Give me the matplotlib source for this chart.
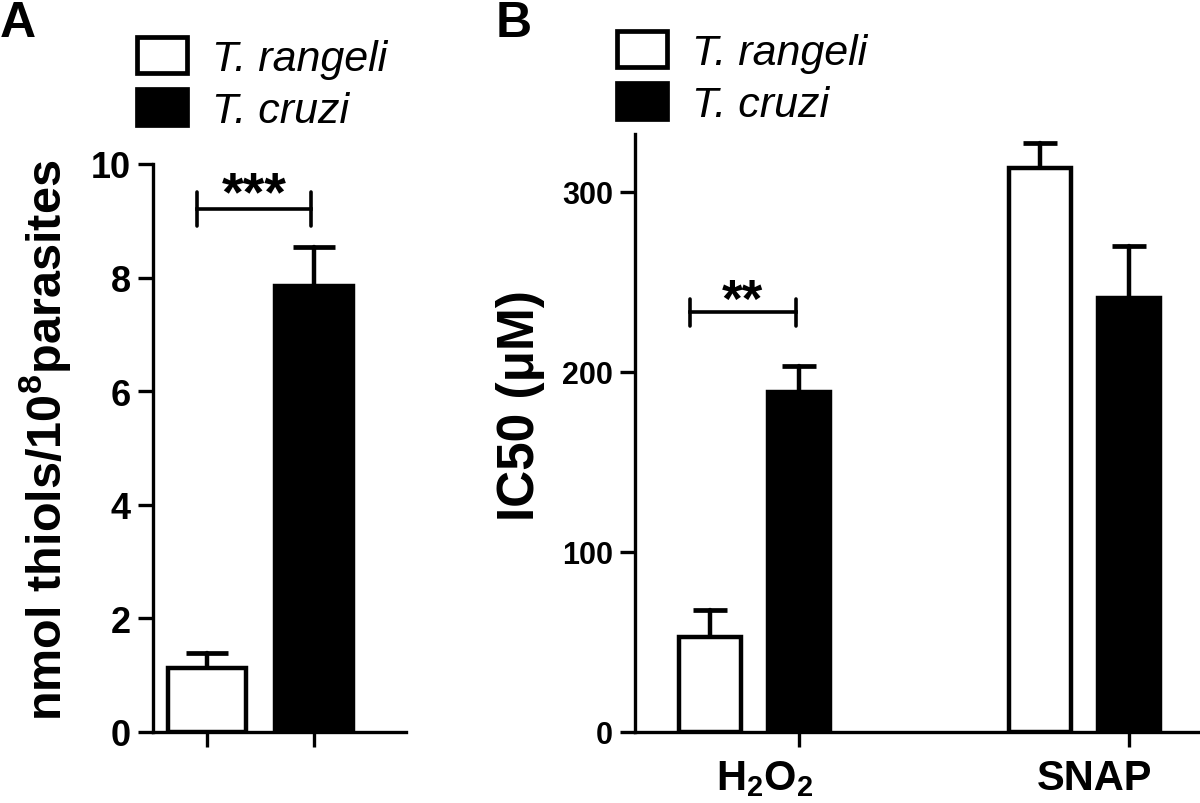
import matplotlib
matplotlib.use('Agg')
import matplotlib.pyplot as plt
from matplotlib.patches import Patch
import numpy as np

plt.rcParams['font.family'] = ['Liberation Sans', 'DejaVu Sans']
plt.rcParams['mathtext.default'] = 'regular'

# ---------------- data ----------------
series = ['T. rangeli', 'T. cruzi']
series_colors = ['white', 'black']

# Panel A: thiol content
a_values = [1.12, 7.85]
a_errors = [0.27, 0.69]
a_yticks = [0, 2, 4, 6, 8, 10]

# Panel B: IC50
b_categories = ['H$_2$O$_2$', 'SNAP']
b_rangeli = [53, 313]
b_rangeli_err = [15, 14]
b_cruzi = [189, 241]
b_cruzi_err = [14, 29]
b_yticks = [0, 100, 200, 300]

W, H = 1200, 804
fig = plt.figure(figsize=(W / 100, H / 100), dpi=100)


def px_axes(l, r, t, b):
    return fig.add_axes([l / W, 1 - b / H, (r - l) / W, (b - t) / H])


def style_axes(ax, ylabelsize):
    for s in ['top', 'right']:
        ax.spines[s].set_visible(False)
    for s in ['left', 'bottom']:
        ax.spines[s].set_linewidth(2.4)
    ax.tick_params(axis='both', which='major', direction='out', length=11, width=2.4)
    ax.tick_params(axis='y', labelsize=ylabelsize, pad=5)
    for lab in ax.get_yticklabels():
        lab.set_fontweight('bold')


def round_caps(eb):
    for ln in eb.lines[1]:
        ln.set_solid_capstyle('round')
    for lc in eb.lines[2]:
        lc.set_capstyle('round')


lw_edge = 3.2

# ---------------- Panel A ----------------
axA = px_axes(153, 406, 165, 733)
xa = np.arange(len(a_values))
axA.bar(xa, a_values, width=0.73, color=series_colors, edgecolor='black',
        linewidth=lw_edge, zorder=3)
eb = axA.errorbar(xa, a_values, yerr=[np.zeros(len(a_values)), a_errors], fmt='none',
                  ecolor='black', elinewidth=3.2, capsize=15, capthick=3.4, zorder=2)
round_caps(eb)
axA.set_xlim(-0.505, 1.86)
axA.set_ylim(0, 10)
axA.set_yticks(a_yticks)
axA.set_xticks(xa)
axA.set_xticklabels(['', ''])
style_axes(axA, 26)
axA.set_ylabel('nmol thiols/10$^8$parasites', fontsize=35, fontweight='bold')
axA.yaxis.set_label_coords(-0.315, 0.515)

# significance bracket A
bxa = [xa[0] - 0.09, xa[1] - 0.03]
ya = 9.2
axA.plot([bxa[0], bxa[1]], [ya, ya], color='black', lw=2.6, clip_on=False)
for xx in bxa:
    axA.plot([xx, xx], [ya - 0.3, ya + 0.3], color='black', lw=2.6,
             clip_on=False, solid_capstyle='round')
axA.text(np.mean(bxa), ya - 0.2, '***', ha='center', va='bottom', fontsize=40,
         fontweight='bold')

# ---------------- Panel B ----------------
axB = px_axes(635, 1200, 135, 733)
xb = np.arange(len(b_categories))
off = 0.27
wb = 0.188
axB.bar(xb - off, b_rangeli, width=wb, color='white', edgecolor='black',
        linewidth=lw_edge, zorder=3)
axB.bar(xb, b_cruzi, width=wb, color='black', edgecolor='black',
        linewidth=lw_edge, zorder=3)
for xs, ys, es in [(xb - off, b_rangeli, b_rangeli_err), (xb, b_cruzi, b_cruzi_err)]:
    eb = axB.errorbar(xs, ys, yerr=[np.zeros(len(xb)), es], fmt='none',
                      ecolor='black', elinewidth=3.2, capsize=12.5, capthick=3.4, zorder=2)
    round_caps(eb)
axB.set_xlim(-0.497, 1.215)
axB.set_ylim(0, 332)
axB.set_yticks(b_yticks)
# ticks at the black bars, category labels centred near the group centre
axB.set_xticks(xb)
axB.set_xticklabels(['', ''])
axB.set_xticks(xb - off / 2 + 0.03, minor=True)
axB.set_xticklabels(b_categories, minor=True, fontsize=30, fontweight='bold')
axB.tick_params(axis='x', which='minor', length=0, pad=19)
style_axes(axB, 22)
axB.set_ylabel('IC50 (μM)', fontsize=37, fontweight='bold')
axB.yaxis.set_label_coords(-0.16, 0.548)

# significance bracket B
bxb = [xb[0] - 0.33, xb[0] - 0.01]
yb = 233
axB.plot([bxb[0], bxb[1]], [yb, yb], color='black', lw=2.6, clip_on=False)
for xx in bxb:
    axB.plot([xx, xx], [yb - 7.5, yb + 7.5], color='black', lw=2.6,
             clip_on=False, solid_capstyle='round')
axB.text(np.mean(bxb), yb - 8, '**', ha='center', va='bottom', fontsize=38,
         fontweight='bold')

# ---------------- legends ----------------
handles = [Patch(facecolor=c, edgecolor='black', linewidth=3.4) for c in series_colors]
for (lx, ty) in [(137, 38), (617, 32)]:
    fig.legend(handles, series, loc='upper left',
               bbox_to_anchor=(lx / W, 1 - ty / H), bbox_transform=fig.transFigure,
               frameon=False, borderpad=0, borderaxespad=0,
               handlelength=1.15, handleheight=0.9, handletextpad=0.6,
               labelspacing=0.25,
               prop={'family': 'Liberation Sans', 'style': 'italic', 'size': 31})

# ---------------- panel letters ----------------
fig.text(0 / W, 1 - 37 / H, 'A', fontsize=36, fontweight='bold', va='baseline', ha='left')
fig.text(496 / W, 1 - 37 / H, 'B', fontsize=36, fontweight='bold', va='baseline', ha='left')

fig.savefig('out.png', dpi=100)
